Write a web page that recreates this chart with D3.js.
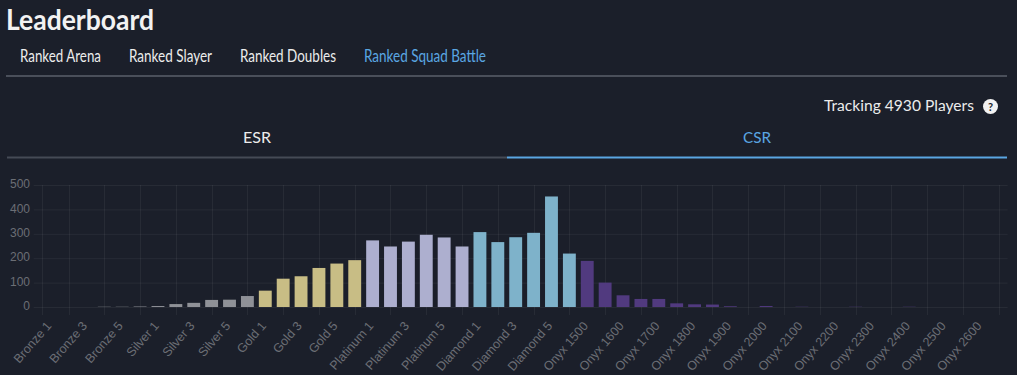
<!DOCTYPE html>
<html>
<head>
<meta charset="utf-8">
<script src="https://cdn.jsdelivr.net/npm/d3@7"></script>
<style>
  html, body { margin: 0; padding: 0; background: #1b1f2a; }
  svg { display: block; }
</style>
</head>
<body>
<div id="chart"></div>
<script>
// ranks shown on the CSR tab
const ranks = [
  "Bronze 1", "Bronze 2", "Bronze 3", "Bronze 4", "Bronze 5", "Bronze 6",
  "Silver 1", "Silver 2", "Silver 3", "Silver 4", "Silver 5", "Silver 6",
  "Gold 1", "Gold 2", "Gold 3", "Gold 4", "Gold 5", "Gold 6",
  "Platinum 1", "Platinum 2", "Platinum 3", "Platinum 4", "Platinum 5", "Platinum 6",
  "Diamond 1", "Diamond 2", "Diamond 3", "Diamond 4", "Diamond 5", "Diamond 6",
  "Onyx 1500", "Onyx 1550", "Onyx 1600", "Onyx 1650", "Onyx 1700", "Onyx 1750",
  "Onyx 1800", "Onyx 1850", "Onyx 1900", "Onyx 1950", "Onyx 2000", "Onyx 2050",
  "Onyx 2100", "Onyx 2150", "Onyx 2200", "Onyx 2250", "Onyx 2300", "Onyx 2350",
  "Onyx 2400", "Onyx 2450", "Onyx 2500", "Onyx 2550", "Onyx 2600", "Onyx 2650"
];
const players = [
  0, 0, 0, 1, 1, 2,
  4, 12, 17, 29, 30, 45,
  67, 116, 126, 160, 178, 192,
  273, 248, 268, 296, 285, 248,
  307, 266, 286, 304, 453, 219,
  189, 100, 48, 33, 33, 15,
  11, 10, 3, 0, 4, 0,
  1, 0, 0, 1, 0, 0,
  1, 0, 0, 0, 0, 0
];
const tierColors = {
  Bronze: "#8f9197", Silver: "#8f9197", Gold: "#c8bd85",
  Platinum: "#adafcf", Diamond: "#7eb2ca", Onyx: "#513a7f"
};
const yTicks = [0, 100, 200, 300, 400, 500];
const navTabs = ["Ranked Arena", "Ranked Slayer", "Ranked Doubles", "Ranked Squad Battle"];
const modeTabs = ["ESR", "CSR"];

const W = 1017, H = 375;
const blue = "#5aa6e2";
const uiFont = "Lato, 'Open Sans', sans-serif";

const svg = d3.select("#chart").append("svg")
  .attr("width", W).attr("height", H);

svg.append("rect").attr("width", W).attr("height", H).attr("fill", "#1b1f2a");

// header
svg.append("text")
  .attr("x", 6).attr("y", 30)
  .attr("textLength", 148).attr("lengthAdjust", "spacingAndGlyphs")
  .style("font-family", uiFont)
  .style("font-weight", 700).style("font-size", "29px")
  .attr("fill", "#f2f2f2")
  .text("Leaderboard");

const navX = [20, 129, 240, 364];
const navW = [81, 83, 96, 122];
svg.selectAll("text.nav")
  .data(navTabs)
  .enter().append("text")
  .attr("class", "nav")
  .attr("x", (d, i) => navX[i]).attr("y", 61.5)
  .attr("textLength", (d, i) => navW[i]).attr("lengthAdjust", "spacingAndGlyphs")
  .style("font-family", uiFont).style("font-size", "17px")
  .attr("fill", (d, i) => i === 3 ? blue : "#ececec")
  .text(d => d);

svg.append("rect").attr("x", 6).attr("y", 75).attr("width", 1001).attr("height", 2)
  .attr("fill", "#4a4f5a");

svg.append("text")
  .attr("x", 824).attr("y", 111)
  .attr("textLength", 150).attr("lengthAdjust", "spacingAndGlyphs")
  .style("font-family", uiFont).style("font-size", "15.5px")
  .attr("fill", "#ececec")
  .text("Tracking 4930 Players");

svg.append("circle").attr("cx", 990.5).attr("cy", 106.5).attr("r", 7.5).attr("fill", "#f2f2f2");
svg.append("text")
  .attr("x", 990.5).attr("y", 110.5).attr("text-anchor", "middle")
  .style("font-family", uiFont).style("font-weight", 700).style("font-size", "11px")
  .attr("fill", "#1b1f2a")
  .text("?");

// ESR / CSR tabs
svg.selectAll("text.mode")
  .data(modeTabs)
  .enter().append("text")
  .attr("class", "mode")
  .attr("x", (d, i) => i === 0 ? 257 : 757).attr("y", 143)
  .attr("text-anchor", "middle")
  .attr("textLength", 28).attr("lengthAdjust", "spacingAndGlyphs")
  .style("font-family", uiFont).style("font-size", "16px")
  .attr("fill", (d, i) => i === 1 ? blue : "#ececec")
  .text(d => d);

svg.append("rect").attr("x", 7).attr("y", 156.5).attr("width", 500).attr("height", 2).attr("fill", "#454a55");
svg.append("rect").attr("x", 507).attr("y", 156.5).attr("width", 500).attr("height", 2).attr("fill", blue);

// chart
const plotLeft = 41.7, plotRight = 1007.6, plotTop = 185, plotBottom = 307;

const x = d3.scaleBand()
  .domain(ranks)
  .range([plotLeft, plotRight])
  .paddingInner(0.28)
  .paddingOuter(0.14);

const y = d3.scaleLinear()
  .domain([0, 500])
  .range([plotBottom, plotTop]);

const center = d => x(d) + x.bandwidth() / 2;
const gridCol = "rgba(255,255,255,0.055)";

// horizontal grid
svg.append("g").selectAll("line")
  .data(yTicks)
  .enter().append("line")
  .attr("x1", plotLeft - 8).attr("x2", plotRight)
  .attr("y1", d => y(d) + 0.5).attr("y2", d => y(d) + 0.5)
  .attr("stroke", gridCol).attr("stroke-width", 1);

// vertical grid, halfway between the shown ticks
const gridX = [plotLeft].concat(ranks.filter((d, i) => i % 2 === 1).map(center));
svg.append("g").selectAll("line")
  .data(gridX)
  .enter().append("line")
  .attr("x1", d => Math.round(d) + 0.5).attr("x2", d => Math.round(d) + 0.5)
  .attr("y1", plotTop).attr("y2", plotBottom + 8)
  .attr("stroke", gridCol).attr("stroke-width", 1);

// y labels
svg.append("g").selectAll("text")
  .data(yTicks)
  .enter().append("text")
  .attr("x", 30).attr("y", d => y(d))
  .attr("text-anchor", "end").attr("dominant-baseline", "middle")
  .style("font-family", "'Liberation Sans', Arial, sans-serif").style("font-size", "12px")
  .attr("fill", "#6b6e75")
  .text(d => d);

// bars
svg.append("g").selectAll("rect")
  .data(ranks)
  .enter().append("rect")
  .attr("x", d => x(d))
  .attr("width", x.bandwidth())
  .attr("y", (d, i) => y(players[i]))
  .attr("height", (d, i) => plotBottom - y(players[i]))
  .attr("fill", d => tierColors[d.split(" ")[0]]);

// x labels (every other rank)
svg.append("g").selectAll("text")
  .data(ranks.filter((d, i) => i % 2 === 0))
  .enter().append("text")
  .attr("transform", d => `translate(${center(d) - 1},${plotBottom + 17}) rotate(-49)`)
  .attr("text-anchor", "end").attr("dominant-baseline", "middle")
  .style("font-family", "'Liberation Sans', Arial, sans-serif").style("font-size", "12.5px")
  .attr("fill", "#6b6e75")
  .text(d => d);
</script>
</body>
</html>
